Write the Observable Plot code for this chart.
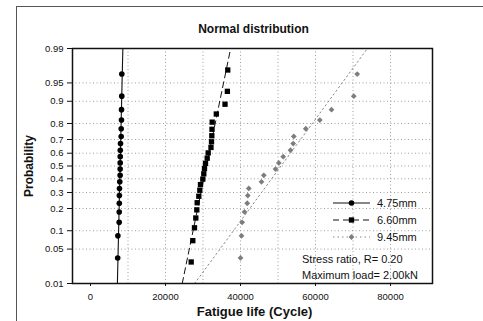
<!DOCTYPE html>
<html>
<head>
<meta charset="utf-8">
<script src="https://cdn.jsdelivr.net/npm/d3@7"></script>
<script src="https://cdn.jsdelivr.net/npm/@observablehq/plot@0.6"></script>
<style>
  html, body { margin: 0; padding: 0; background: white; }
  #wrap { position: relative; width: 483px; height: 321px; overflow: hidden; }
  #border { position: absolute; left: 16px; top: 6px; width: 480px; height: 330px;
            border-left: 1px solid #555; border-top: 1px solid #555; pointer-events: none; }
</style>
</head>
<body>
<div id="wrap"><div id="border"></div></div>
<script>
// ---- data ----
const series = ["4.75mm", "6.60mm", "9.45mm"];
const life475 = [7250, 7300, 7650, 7660, 7680, 7700, 7730, 7810, 7900, 7910,
                 7920, 7930, 7940, 8000, 8180, 8190, 8260, 8270, 8340, 8350];
const life660 = [26850, 27280, 27730, 28080, 28350, 28450, 28880, 29150, 29330, 29950,
                 30210, 30400, 30670, 31120, 31390, 32130, 32270, 32350, 32400, 32450,
                 33550, 35870, 36500, 36600];
const life945 = [40000, 40270, 40450, 41070, 41790, 41950, 42210, 45600, 46210, 49330,
                 50210, 51390, 53330, 54050, 54210, 57410, 61150, 64270, 70210, 71120];
const probTicks = [0.01, 0.05, 0.1, 0.2, 0.3, 0.4, 0.5, 0.6, 0.7, 0.8, 0.9, 0.95, 0.99];
const probLabels = ["0.01", "0.05", "0.1", "0.2", "0.3", "0.4", "0.5", "0.6", "0.7", "0.8", "0.9", "0.95", "0.99"];
const xTicks = [0, 20000, 40000, 60000, 80000];
const xGrid = [10000, 20000, 30000, 40000, 50000, 60000, 70000, 80000];
const notes = ["Stress ratio, R= 0.20", "Maximum load= 2.00kN"];

// inverse standard normal CDF (Acklam)
function probit(p) {
  const a = [-3.969683028665376e+01, 2.209460984245205e+02, -2.759285104469687e+02, 1.383577518672690e+02, -3.066479806614716e+01, 2.506628277459239e+00];
  const b = [-5.447609879822406e+01, 1.615858368580409e+02, -1.556989798598866e+02, 6.680131188771972e+01, -1.328068155288572e+01];
  const c = [-7.784894002430293e-03, -3.223964580411365e-01, -2.400758277161838e+00, -2.549671442049390e+00, 4.374664141464968e+00, 2.938163982698783e+00];
  const d = [7.784695709041462e-03, 3.224671290700398e-01, 2.445134137142996e+00, 3.754408661907416e+00];
  const pl = 0.02425;
  let q, r;
  if (p < pl) { q = Math.sqrt(-2 * Math.log(p));
    return (((((c[0]*q+c[1])*q+c[2])*q+c[3])*q+c[4])*q+c[5]) / ((((d[0]*q+d[1])*q+d[2])*q+d[3])*q+1); }
  if (p > 1 - pl) { q = Math.sqrt(-2 * Math.log(1 - p));
    return -(((((c[0]*q+c[1])*q+c[2])*q+c[3])*q+c[4])*q+c[5]) / ((((d[0]*q+d[1])*q+d[2])*q+d[3])*q+1); }
  q = p - 0.5; r = q * q;
  return (((((a[0]*r+a[1])*r+a[2])*r+a[3])*r+a[4])*r+a[5])*q / (((((b[0]*r+b[1])*r+b[2])*r+b[3])*r+b[4])*r+1);
}

const zTicks = probTicks.map(probit);
const zMin = probit(0.01), zMax = probit(0.99);

function rowsOf(values, name) {
  const v = values.slice().sort((a, b) => a - b);
  const n = v.length;
  return v.map((x, i) => ({ series: name, x, z: probit((i + 1 - 0.3) / (n + 0.4)) }));
}
// fitted normal distribution line (mean, standard deviation)
function fitOf(values, name) {
  const m = d3.mean(values), s = d3.deviation(values);
  return [zMin, zMax].map(z => ({ series: name, x: m + s * z, z }));
}
const all = [life475, life660, life945];
const pts = all.map((v, i) => rowsOf(v, series[i]));
const fits = all.map((v, i) => fitOf(v, series[i]));

const styles = [
  { stroke: "#111", dash: null, width: 1.1, symbol: "circle", r: 2.8, fill: "#000" },
  { stroke: "#111", dash: "6,4", width: 1, symbol: "square", r: 3.0, fill: "#000" },
  { stroke: "#888", dash: "1.5,3", width: 1, symbol: "diamond2", r: 2.6, fill: "#7d7d7d" }
];

const gridStyle = { stroke: "#888", strokeDasharray: "1,2.5", strokeWidth: 1, strokeOpacity: 0.8 };

const marks = [
  Plot.ruleX(xGrid, gridStyle),
  Plot.ruleY(zTicks.slice(1, -1), gridStyle)
];
styles.forEach((st, i) => {
  marks.push(Plot.line(fits[i], { x: "x", y: "z", stroke: st.stroke, strokeWidth: st.width, strokeDasharray: st.dash }));
});
styles.forEach((st, i) => {
  marks.push(Plot.dot(pts[i], { x: "x", y: "z", symbol: st.symbol, r: st.r, fill: st.fill, stroke: "none" }));
});
marks.push(Plot.frame({ stroke: "#111", strokeWidth: 1.5 }));
marks.push(Plot.text(["Normal distribution"], { frameAnchor: "top", dy: -19, dx: 1, lineAnchor: "middle", fontWeight: "bold", fontSize: 12 }));
marks.push(Plot.text(["Fatigue life (Cycle)"], { frameAnchor: "bottom", dy: 28, dx: 2, lineAnchor: "middle", fontWeight: "bold", fontSize: 13 }));
marks.push(Plot.text(["Probability"], { frameAnchor: "left", dx: -43, rotate: -90, lineAnchor: "middle", textAnchor: "middle", fontWeight: "bold", fontSize: 12 }));

const svg = Plot.plot({
  width: 483, height: 321,
  marginLeft: 72, marginRight: 51, marginTop: 48, marginBottom: 38,
  style: { fontFamily: "'Liberation Sans', Arial, sans-serif", fontSize: "9.5px", color: "#111", background: "transparent" },
  x: { domain: [-4800, 91200], ticks: xTicks, tickFormat: d => String(d), label: null, tickSize: 3, tickPadding: 7 },
  y: { domain: [zMin, zMax], ticks: zTicks, tickFormat: d => probLabels[zTicks.indexOf(d)] ?? "", label: null, tickSize: 5, tickPadding: 4 },
  marks
});
svg.style.position = "absolute";
svg.style.left = "0px";
svg.style.top = "0px";
document.getElementById("wrap").appendChild(svg);

// legend + notes
const g = d3.select(svg).append("g")
  .attr("font-family", "'Liberation Sans', Arial, sans-serif")
  .attr("font-size", 11)
  .attr("text-anchor", "start");
styles.forEach((st, i) => {
  const y = 203 + i * 17;
  g.append("line").attr("x1", 333).attr("x2", 370).attr("y1", y).attr("y2", y)
    .attr("stroke", st.stroke).attr("stroke-width", st.width).attr("stroke-dasharray", st.dash);
  g.append("path").attr("transform", `translate(351.5,${y})`)
    .attr("d", d3.symbol(st.symbol === "circle" ? d3.symbolCircle : st.symbol === "square" ? d3.symbolSquare : d3.symbolDiamond2, Math.PI * st.r * st.r)())
    .attr("fill", st.fill);
  g.append("text").attr("x", 377).attr("y", y).attr("dy", "0.35em").attr("text-anchor", "start").text(series[i]);
});
notes.forEach((t, i) => {
  g.append("text").attr("x", 302).attr("y", 259 + i * 16).attr("dy", "0.35em").attr("text-anchor", "start").text(t);
});
</script>
</body>
</html>
